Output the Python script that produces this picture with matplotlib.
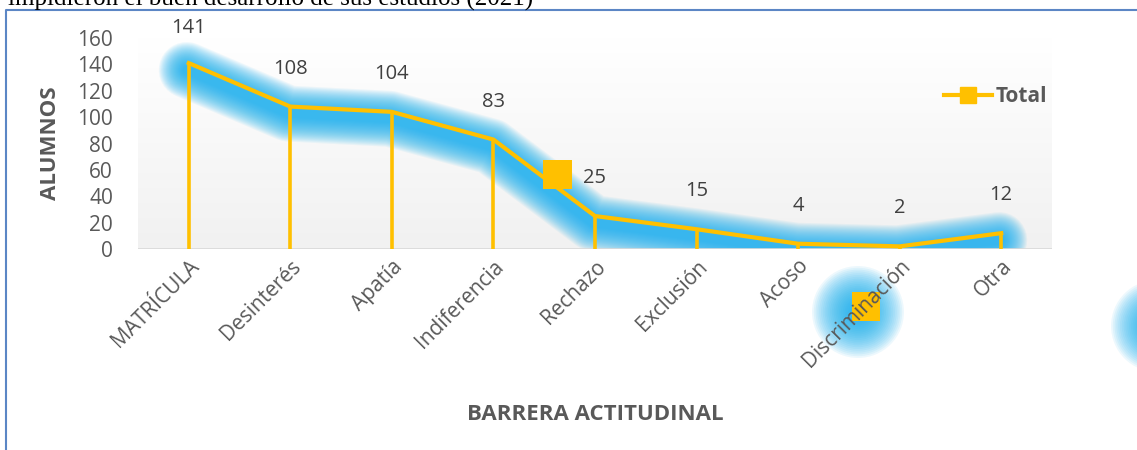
import matplotlib
matplotlib.use("Agg")
import matplotlib.pyplot as plt
import matplotlib.transforms as mtransforms
import numpy as np
from matplotlib.patches import Rectangle
from matplotlib.lines import Line2D

categories = ["MATRÍCULA", "Desinterés", "Apatía", "Indiferencia", "Rechazo",
              "Exclusión", "Acoso", "Discriminación", "Otra"]
values = [141, 108, 104, 83, 25, 15, 4, 2, 12]
yticks = [0, 20, 40, 60, 80, 100, 120, 140, 160]
series_name = "Total"

plt.rcParams['font.family'] = ['Open Sans', 'DejaVu Sans']
W, H = 1137, 450
fig = plt.figure(figsize=(W / 100, H / 100), dpi=100)
fig.patch.set_facecolor('white')

def fx(px):
    return px / W

def fy(py):
    return 1 - py / H

glow_col = '#12AEEE'

# back decoration layer (stray glow markers, drawn beneath the chart texts)
deco = fig.add_axes([0, 0, 1, 1], zorder=0)
deco.set_xlim(0, W)
deco.set_ylim(H, 0)
deco.axis('off')
for cx, cy in [(858, 312), (1157, 326)]:
    for r in np.linspace(46, 8, 22):
        deco.add_patch(plt.Circle((cx, cy), r, color=glow_col, alpha=0.075, lw=0))
deco.add_patch(Rectangle((852, 292), 28, 29, color='#FFC000', lw=0))
deco.plot([6, 6, W + 5], [H + 5, 10, 10], color='#5B86C5', lw=1.5)

ax = fig.add_axes([fx(138), fy(249), fx(1052) - fx(138), fy(38) - fy(249)], zorder=1)
ax.patch.set_alpha(0)
x = np.arange(len(categories))
ax.set_xlim(-0.5, len(categories) - 0.5)
ax.set_ylim(0, 160)

# gradient background
grad = np.linspace(1, 0, 256).reshape(-1, 1)
top = np.array([1.0, 1.0, 1.0])
bot = np.array([0.945, 0.945, 0.945])
img = (grad[..., None] * top + (1 - grad[..., None]) * bot)
ax.imshow(img, extent=[-0.5, len(categories) - 0.5, 0, 160], aspect='auto', zorder=0, origin='upper')

for s in ax.spines.values():
    s.set_visible(False)

# glow (soft, slightly offset downward)
glow_tr = mtransforms.offset_copy(ax.transData, fig=fig, x=-2, y=-7, units='dots')
widths = np.linspace(56, 8, 24)
for w in widths:
    ax.plot(x, values, color=glow_col, lw=w * 0.72, alpha=0.068, solid_capstyle='round',
            solid_joinstyle='round', zorder=2, transform=glow_tr)
ax.axhline(0, color='#D9D9D9', lw=1.2, zorder=2.5)

# drop lines
ax.vlines(x, 0, values, color='#FFC000', lw=2.6, zorder=3)
ax.plot(x, values, color='#FFC000', lw=3.0, zorder=4, solid_joinstyle='miter')

# stray square over the line
ax.add_patch(Rectangle((543, 160), 29, 29, color='#FFC000', lw=0, zorder=5,
                       transform=deco.transData, clip_on=False))

# data labels (kept inside the chart frame near the top)
fig.canvas.draw()
top_limit_px = 28  # label centres stay at least this far below the figure top
for i, v in enumerate(values):
    px, py = ax.transData.transform((x[i], v))
    py_img = H - py
    lab_img = max(py_img - 38, top_limit_px)
    ax.annotate(str(v), (x[i], lab_img),
                xycoords=mtransforms.blended_transform_factory(ax.transData, deco.transData),
                ha='center', va='center', fontsize=14.5, color='#404040', zorder=12,
                annotation_clip=False)

ax.set_yticks(yticks)
ax.set_yticklabels([str(t) for t in yticks], fontsize=15, color='#595959')
ax.set_xticks(x)
ax.set_xticklabels(categories, rotation=45, ha='right', rotation_mode='anchor',
                   fontsize=15, color='#595959')
shift = mtransforms.ScaledTranslation(-5 / 100, 0, fig.dpi_scale_trans)
for lab in ax.get_xticklabels():
    lab.set_transform(lab.get_transform() + shift)
ax.tick_params(axis='both', length=0)
ax.tick_params(axis='y', pad=18)
ax.tick_params(axis='x', pad=5)

fig.text(fx(50), fy(143), 'ALUMNOS', rotation=90, ha='center', va='center',
         fontsize=16, fontweight='bold', color='#595959')
fig.text(fx(595), fy(415), 'BARRERA ACTITUDINAL', ha='center', va='center',
         fontsize=16, fontweight='bold', color='#595959')

# legend
handle = Line2D([0], [0], color='#FFC000', lw=3, marker='s', markersize=11,
                markerfacecolor='#FFC000', markeredgecolor='#FFC000')
leg = fig.legend([handle], [series_name], loc='center left',
                 bbox_to_anchor=(fx(936), fy(97)), frameon=False,
                 prop={'weight': 'bold', 'size': 15}, handlelength=2.3,
                 handletextpad=0.15, borderaxespad=0)
for t in leg.get_texts():
    t.set_color('#595959')

fig.text(fx(8), fy(6), 'impidieron el buen desarrollo de sus estudios (2021)',
         family=['Liberation Serif', 'DejaVu Serif'], fontsize=18, color='black',
         va='baseline', ha='left')

fig.savefig('out.png', dpi=100)
